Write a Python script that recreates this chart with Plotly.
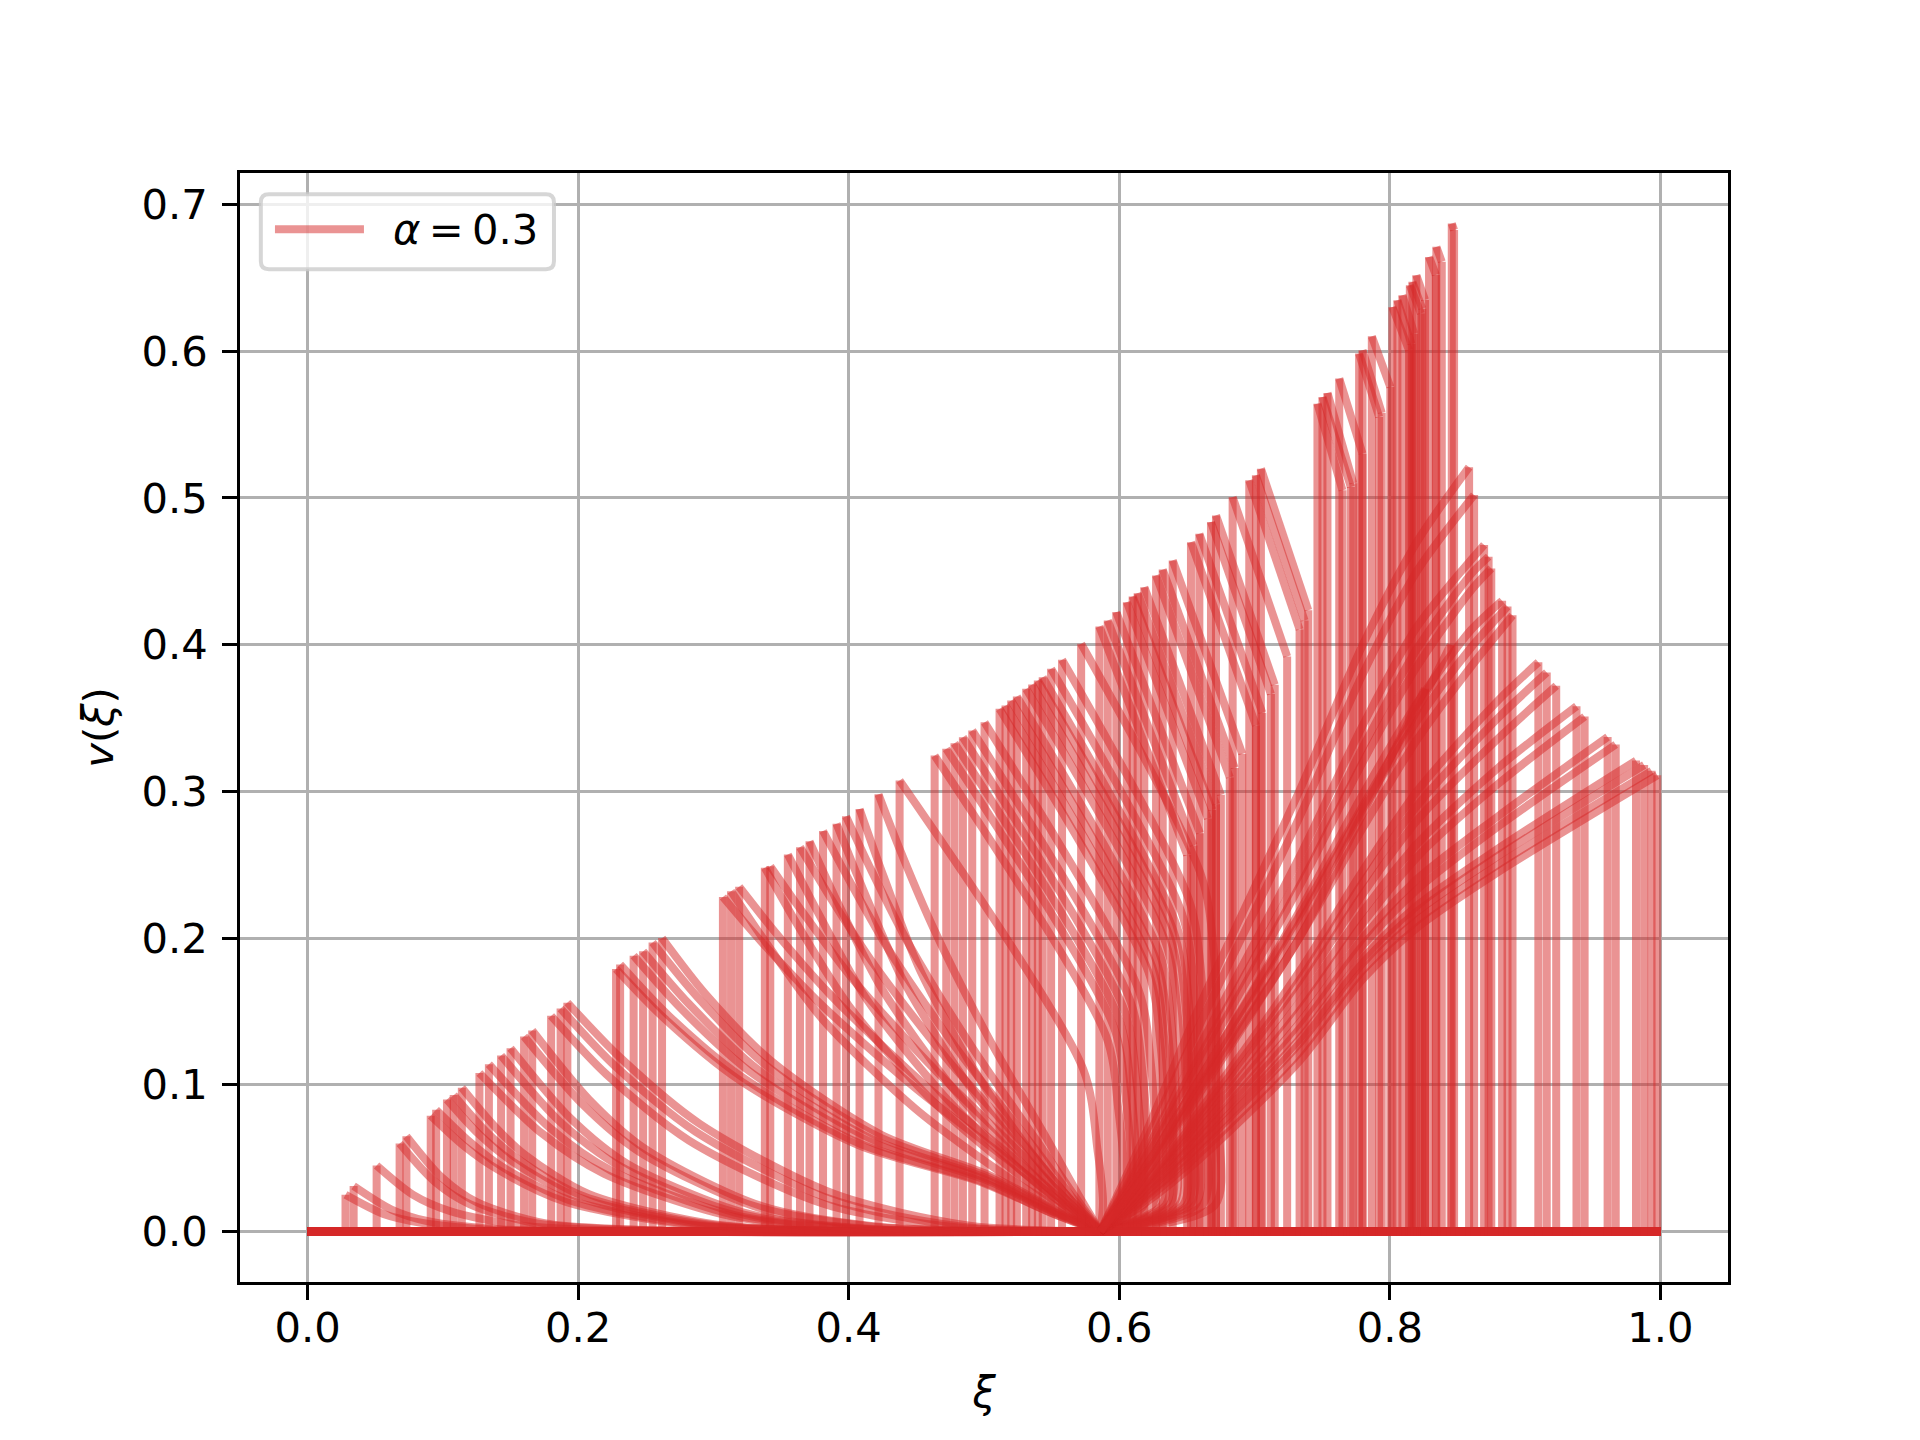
import plotly.graph_objects as go

# --- data -----------------------------------------------------------------
# every profile is zero outside its points; the first point is reached by a
# vertical jump from zero, the last point drops vertically back to zero
xi_domain = [0.0, 1.0]
alpha_value = 0.3

# shocks left of the focus, decaying into it
decay_curves = [
    [(0.028, 0.025), (0.056, 0.012), (0.084, 0.006), (0.14, 0.001), (0.25, 0.0), (0.586, 0.0)],
    [(0.034, 0.031), (0.062, 0.015), (0.089, 0.007), (0.144, 0.0014), (0.26, 0.0), (0.586, 0.0)],
    [(0.051, 0.045), (0.078, 0.025), (0.105, 0.014), (0.158, 0.004), (0.265, 0.0002), (0.586, 0.0)],
    [(0.068, 0.060), (0.094, 0.034), (0.120, 0.0186), (0.172, 0.0051), (0.275, 0.0002), (0.586, 0.0)],
    [(0.073, 0.065), (0.099, 0.037), (0.125, 0.020), (0.176, 0.0055), (0.278, 0.0003), (0.586, 0.0)],
    [(0.091, 0.079), (0.116, 0.058), (0.141, 0.042), (0.19, 0.0205), (0.289, 0.0037), (0.388, 0.0003), (0.586, 0.0)],
    [(0.095, 0.083), (0.120, 0.061), (0.144, 0.044), (0.193, 0.0216), (0.291, 0.0039), (0.39, 0.0003), (0.586, 0.0)],
    [(0.103, 0.090), (0.127, 0.066), (0.151, 0.048), (0.2, 0.0234), (0.296, 0.0042), (0.393, 0.0004), (0.586, 0.0)],
    [(0.108, 0.093), (0.132, 0.068), (0.156, 0.049), (0.204, 0.024), (0.299, 0.0044), (0.395, 0.0004), (0.586, 0.0)],
    [(0.114, 0.098), (0.138, 0.072), (0.161, 0.052), (0.208, 0.0255), (0.303, 0.0046), (0.397, 0.0004), (0.586, 0.0)],
    [(0.127, 0.108), (0.173, 0.067), (0.219, 0.0395), (0.311, 0.0108), (0.402, 0.0017), (0.494, 0.0001), (0.586, 0.0)],
    [(0.134, 0.114), (0.179, 0.0707), (0.224, 0.0417), (0.315, 0.0114), (0.405, 0.0018), (0.586, 0.0)],
    [(0.143, 0.120), (0.187, 0.0744), (0.232, 0.0439), (0.32, 0.012), (0.409, 0.0019), (0.586, 0.0)],
    [(0.150, 0.125), (0.194, 0.0775), (0.237, 0.0458), (0.324, 0.0125), (0.412, 0.002), (0.586, 0.0)],
    [(0.160, 0.133), (0.203, 0.087), (0.245, 0.0545), (0.33, 0.0173), (0.416, 0.0035), (0.501, 0.0002), (0.586, 0.0)],
    [(0.166, 0.137), (0.208, 0.090), (0.25, 0.056), (0.334, 0.0178), (0.418, 0.0036), (0.502, 0.0002), (0.586, 0.0)],
    [(0.180, 0.147), (0.221, 0.107), (0.282, 0.062), (0.383, 0.0184), (0.484, 0.0024), (0.586, 0.0)],
    [(0.187, 0.152), (0.227, 0.113), (0.287, 0.068), (0.387, 0.0219), (0.486, 0.0031), (0.586, 0.0)],
    [(0.192, 0.156), (0.231, 0.1186), (0.290, 0.0733), (0.389, 0.0257), (0.488, 0.0042), (0.586, 0.0)],
    [(0.228, 0.179), (0.264, 0.145), (0.318, 0.104), (0.407, 0.059), (0.497, 0.034), (0.55, 0.0125), (0.586, 0.0)],
    [(0.231, 0.182), (0.267, 0.147), (0.320, 0.106), (0.408, 0.060), (0.497, 0.0346), (0.55, 0.0127), (0.586, 0.0)],
    [(0.241, 0.188), (0.276, 0.152), (0.327, 0.109), (0.414, 0.062), (0.5, 0.0357), (0.552, 0.013), (0.586, 0.0)],
    [(0.248, 0.191), (0.282, 0.155), (0.332, 0.111), (0.417, 0.063), (0.502, 0.0363), (0.552, 0.0134), (0.586, 0.0)],
    [(0.255, 0.197), (0.288, 0.160), (0.338, 0.114), (0.421, 0.065), (0.503, 0.0374), (0.553, 0.0138), (0.586, 0.0)],
    [(0.262, 0.200), (0.294, 0.162), (0.343, 0.116), (0.424, 0.066), (0.505, 0.038), (0.554, 0.014), (0.586, 0.0)],
    [(0.307, 0.228), (0.335, 0.198), (0.377, 0.157), (0.4465, 0.100), (0.516, 0.050), (0.558, 0.019), (0.586, 0.0)],
    [(0.313, 0.232), (0.3403, 0.195), (0.3813, 0.144), (0.4495, 0.0835), (0.5178, 0.037), (0.5587, 0.014), (0.586, 0.0)],
    [(0.319, 0.235), (0.3457, 0.204), (0.3858, 0.162), (0.4525, 0.103), (0.5192, 0.052), (0.5593, 0.020), (0.586, 0.0)],
    [(0.338, 0.248), (0.3628, 0.208), (0.4, 0.154), (0.462, 0.089), (0.524, 0.040), (0.5612, 0.015), (0.586, 0.0)],
    [(0.342, 0.249), (0.3664, 0.217), (0.403, 0.172), (0.464, 0.110), (0.525, 0.055), (0.5616, 0.021), (0.586, 0.0)],
    [(0.355, 0.257), (0.3781, 0.216), (0.4128, 0.159), (0.4705, 0.0925), (0.5283, 0.041), (0.5629, 0.0154), (0.586, 0.0)],
    [(0.364, 0.262), (0.3862, 0.228), (0.4195, 0.181), (0.475, 0.115), (0.5305, 0.058), (0.5638, 0.022), (0.586, 0.0)],
    [(0.371, 0.266), (0.3925, 0.223), (0.4248, 0.165), (0.4785, 0.096), (0.5323, 0.0426), (0.5645, 0.016), (0.586, 0.0)],
    [(0.381, 0.273), (0.4015, 0.2375), (0.4323, 0.188), (0.4835, 0.12), (0.5348, 0.06), (0.5655, 0.023), (0.586, 0.0)],
    [(0.391, 0.278), (0.4105, 0.2335), (0.4398, 0.172), (0.4885, 0.10), (0.5373, 0.0445), (0.5665, 0.0167), (0.586, 0.0)],
    [(0.398, 0.283), (0.4168, 0.246), (0.445, 0.195), (0.492, 0.1245), (0.539, 0.062), (0.5672, 0.024), (0.586, 0.0)],
    [(0.408, 0.288), (0.4258, 0.242), (0.4525, 0.1786), (0.497, 0.1037), (0.5415, 0.046), (0.5682, 0.0173), (0.586, 0.0)],
    [(0.422, 0.298), (0.4384, 0.259), (0.463, 0.206), (0.504, 0.131), (0.545, 0.0656), (0.5696, 0.0253), (0.586, 0.0)],
]

# sawtooth near the focus: straight descent, then a plunge that bends into it
plunge_curves = [
    [(0.4376, 0.3074), (0.5734, 0.1105), (0.584, 0.055), (0.588, 0.02), (0.586, 0.0)],
    [(0.4635, 0.3244), (0.5903, 0.1331), (0.5993, 0.0831), (0.6033, 0.040), (0.6003, 0.018), (0.586, 0.0)],
    [(0.4721, 0.3290), (0.5959, 0.1396), (0.6049, 0.0896), (0.6089, 0.0419), (0.6059, 0.018), (0.586, 0.0)],
    [(0.4782, 0.3328), (0.5998, 0.1448), (0.6088, 0.0948), (0.6128, 0.0434), (0.6098, 0.018), (0.586, 0.0)],
    [(0.4844, 0.3369), (0.6039, 0.1504), (0.6129, 0.1004), (0.6169, 0.0451), (0.6139, 0.018), (0.586, 0.0)],
    [(0.4913, 0.3415), (0.6083, 0.1569), (0.6173, 0.1069), (0.6213, 0.0471), (0.6183, 0.018), (0.586, 0.0)],
    [(0.5004, 0.3471), (0.6143, 0.1647), (0.6233, 0.1147), (0.6273, 0.0494), (0.6243, 0.018), (0.586, 0.0)],
    [(0.5115, 0.3563), (0.6215, 0.1771), (0.6305, 0.1271), (0.6345, 0.0531), (0.6315, 0.018), (0.586, 0.0)],
    [(0.5159, 0.3585), (0.6243, 0.1807), (0.6333, 0.1307), (0.6373, 0.0542), (0.6343, 0.018), (0.586, 0.0)],
    [(0.5201, 0.3619), (0.6271, 0.1853), (0.6361, 0.1353), (0.6401, 0.0556), (0.6371, 0.018), (0.586, 0.0)],
    [(0.5243, 0.3647), (0.6298, 0.1895), (0.6388, 0.1395), (0.6428, 0.0569), (0.6398, 0.018), (0.586, 0.0)],
    [(0.5312, 0.3699), (0.6343, 0.1969), (0.6433, 0.1469), (0.6473, 0.0591), (0.6443, 0.018), (0.586, 0.0)],
    [(0.5356, 0.3729), (0.6371, 0.2015), (0.6461, 0.1515), (0.6501, 0.0605), (0.6471, 0.018), (0.586, 0.0)],
    [(0.5398, 0.3756), (0.6399, 0.2054), (0.6489, 0.1554), (0.6529, 0.0616), (0.6499, 0.018), (0.586, 0.0)],
    [(0.5434, 0.3778), (0.6422, 0.2089), (0.6512, 0.1589), (0.6552, 0.0627), (0.6522, 0.018), (0.586, 0.0)],
    [(0.5496, 0.3836), (0.6462, 0.2171), (0.6552, 0.1671), (0.6592, 0.0651), (0.6562, 0.018), (0.586, 0.0)],
    [(0.5577, 0.3897), (0.6515, 0.2261), (0.6605, 0.1761), (0.6645, 0.0678), (0.6615, 0.018), (0.586, 0.0)],
    [(0.5718, 0.4006), (0.6607, 0.2424), (0.6697, 0.1924), (0.6737, 0.0727), (0.6707, 0.018), (0.586, 0.0)],
]

# shocks just right of the focus: straight descent, then a vertical drop
shelf_curves = [
    [(0.5853, 0.4124), (0.6502, 0.2566)],
    [(0.5915, 0.4165), (0.6549, 0.2631)],
    [(0.5978, 0.4222), (0.6596, 0.2715)],
    [(0.6056, 0.4290), (0.6655, 0.2815)],
    [(0.6099, 0.4329), (0.6687, 0.2874)],
    [(0.6136, 0.4351), (0.6715, 0.2912)],
    [(0.6185, 0.4392), (0.6751, 0.2977)],
    [(0.6272, 0.4472), (0.6817, 0.3095)],
    [(0.6321, 0.4512), (0.6853, 0.3160)],
    [(0.6395, 0.4574), (0.6909, 0.3256)],
    [(0.6530, 0.4699), (0.7010, 0.3449)],
    [(0.6592, 0.4756), (0.7057, 0.3536)],
    [(0.6678, 0.4836), (0.7121, 0.3663)],
    [(0.6715, 0.4881), (0.7149, 0.3727)],
    [(0.6838, 0.5006), (0.7241, 0.3920)],
    [(0.6961, 0.5120), (0.7333, 0.4103)],
    [(0.7010, 0.5154), (0.7370, 0.4165)],
    [(0.7047, 0.5200), (0.7397, 0.4234)],
]

# tall narrow spikes
spike_curves = [
    [(0.7465, 0.5643), (0.7650, 0.5052)],
    [(0.7502, 0.5688), (0.7712, 0.5075)],
    [(0.7539, 0.5716), (0.7730, 0.5100)],
    [(0.7626, 0.5814), (0.7798, 0.5302)],
    [(0.7773, 0.5984), (0.7921, 0.5552)],
    [(0.7798, 0.6007), (0.7940, 0.5580)],
    [(0.7867, 0.6102), (0.8004, 0.5756)],
    [(0.8019, 0.6302), (0.8142, 0.6007)],
    [(0.8056, 0.6348), (0.8160, 0.6050)],
    [(0.8093, 0.6382), (0.8180, 0.6120)],
    [(0.8148, 0.6450), (0.8229, 0.6257)],
    [(0.8167, 0.6473), (0.8240, 0.6290)],
    [(0.8196, 0.6518), (0.8260, 0.6350)],
    [(0.8290, 0.6643), (0.8340, 0.6520)],
    [(0.8344, 0.6712), (0.8384, 0.6610)],
    [(0.8458, 0.6871), (0.8475, 0.6826)],
]

# profiles rising out of the focus up to a right-hand shock
rising_curves = [
    [(0.586, 0.0), (0.62, 0.020), (0.66, 0.050), (0.733, 0.116), (0.78, 0.172), (0.82, 0.207), (0.88, 0.245), (0.9977, 0.311)],
    [(0.586, 0.0), (0.62, 0.022), (0.66, 0.054), (0.733, 0.122), (0.78, 0.178), (0.82, 0.212), (0.88, 0.250), (0.9935, 0.314)],
    [(0.586, 0.0), (0.62, 0.024), (0.66, 0.058), (0.733, 0.128), (0.78, 0.183), (0.82, 0.218), (0.88, 0.256), (0.988, 0.318)],
    [(0.586, 0.0), (0.62, 0.025), (0.66, 0.060), (0.733, 0.131), (0.78, 0.186), (0.82, 0.222), (0.88, 0.261), (0.982, 0.321)],
    [(0.586, 0.0), (0.62, 0.027), (0.66, 0.064), (0.733, 0.138), (0.78, 0.195), (0.82, 0.233), (0.88, 0.276), (0.967, 0.332)],
    [(0.586, 0.0), (0.62, 0.028), (0.66, 0.066), (0.733, 0.142), (0.78, 0.200), (0.82, 0.240), (0.88, 0.283), (0.961, 0.337)],
    [(0.586, 0.0), (0.62, 0.030), (0.66, 0.070), (0.733, 0.150), (0.78, 0.210), (0.82, 0.255), (0.88, 0.305), (0.944, 0.351)],
    [(0.586, 0.0), (0.62, 0.031), (0.66, 0.073), (0.733, 0.156), (0.78, 0.218), (0.82, 0.264), (0.88, 0.316), (0.938, 0.358)],
    [(0.586, 0.0), (0.62, 0.033), (0.66, 0.077), (0.733, 0.165), (0.78, 0.230), (0.82, 0.280), (0.88, 0.336), (0.923, 0.372)],
    [(0.586, 0.0), (0.62, 0.034), (0.66, 0.080), (0.733, 0.171), (0.78, 0.238), (0.82, 0.290), (0.88, 0.350), (0.916, 0.381)],
    [(0.586, 0.0), (0.62, 0.035), (0.66, 0.083), (0.733, 0.177), (0.78, 0.246), (0.82, 0.300), (0.88, 0.362), (0.9098, 0.388)],
    [(0.586, 0.0), (0.62, 0.040), (0.66, 0.095), (0.733, 0.200), (0.78, 0.275), (0.82, 0.335), (0.86, 0.385), (0.8907, 0.420)],
    [(0.586, 0.0), (0.62, 0.042), (0.66, 0.100), (0.733, 0.210), (0.78, 0.288), (0.82, 0.348), (0.86, 0.398), (0.887, 0.426)],
    [(0.586, 0.0), (0.62, 0.045), (0.66, 0.105), (0.733, 0.218), (0.78, 0.298), (0.82, 0.360), (0.86, 0.410), (0.883, 0.430)],
    [(0.586, 0.0), (0.62, 0.050), (0.66, 0.115), (0.733, 0.235), (0.78, 0.320), (0.82, 0.385), (0.86, 0.437), (0.875, 0.452)],
    [(0.586, 0.0), (0.62, 0.052), (0.66, 0.120), (0.733, 0.243), (0.78, 0.330), (0.82, 0.397), (0.86, 0.448), (0.873, 0.460)],
    [(0.586, 0.0), (0.62, 0.055), (0.66, 0.127), (0.733, 0.255), (0.78, 0.345), (0.82, 0.412), (0.8697, 0.468)],
    [(0.586, 0.0), (0.62, 0.062), (0.66, 0.142), (0.733, 0.282), (0.78, 0.380), (0.82, 0.450), (0.8623, 0.502)],
    [(0.586, 0.0), (0.62, 0.068), (0.66, 0.155), (0.733, 0.300), (0.78, 0.400), (0.82, 0.470), (0.8586, 0.521)],
    [(0.586, 0.0), (0.62, 0.045), (0.66, 0.105), (0.733, 0.215), (0.78, 0.290), (0.82, 0.355), (0.845, 0.400)],
    [(0.586, 0.0), (0.62, 0.040), (0.66, 0.098), (0.733, 0.200), (0.78, 0.285), (0.826, 0.370)],
]

x_ticks = [0.0, 0.2, 0.4, 0.6, 0.8, 1.0]
y_ticks = [0.0, 0.1, 0.2, 0.3, 0.4, 0.5, 0.6, 0.7]

# --- style ------------------------------------------------------------------
RED = "rgba(214,39,40,0.5)"
LW = 8
FONT = "DejaVu Sans"
FS = 41.7


def add_profile(fig, pts):
    xs = [p[0] for p in pts]
    vs = [p[1] for p in pts]
    # flat part and the vertical jump / drop
    fig.add_trace(go.Scatter(x=[xi_domain[0], xs[0], xs[0], None, xs[-1], xs[-1], xi_domain[1]],
                             y=[0.0, 0.0, vs[0], None, vs[-1], 0.0, 0.0],
                             mode="lines", line=dict(color=RED, width=LW),
                             showlegend=False, hoverinfo="skip"))
    # smooth body
    fig.add_trace(go.Scatter(x=xs, y=vs, mode="lines",
                             line=dict(color=RED, width=LW, shape="spline", smoothing=0.8),
                             showlegend=False, hoverinfo="skip"))


fig = go.Figure()
for group in [decay_curves, plunge_curves, shelf_curves, spike_curves, rising_curves]:
    for c in group:
        add_profile(fig, c)

axis_common = dict(showgrid=True, gridcolor="#b0b0b0", gridwidth=3.3, zeroline=False,
                   showline=True, mirror=True, linecolor="black", linewidth=3.3,
                   ticks="outside", ticklen=14.6, tickwidth=3.3, tickcolor="black",
                   tickfont=dict(family=FONT, size=FS, color="black"),
                   tickformat=".1f")

fig.update_xaxes(range=[-0.05, 1.05], tickvals=x_ticks, ticklabelstandoff=-8,
                 title=dict(text="<i>ξ</i>", font=dict(family=FONT, size=FS, color="black"), standoff=28),
                 **axis_common)
fig.update_yaxes(range=[-0.0344, 0.7215], tickvals=y_ticks, ticklabelstandoff=6,
                 title=dict(text="<i>v</i>(<i>ξ</i>)", font=dict(family=FONT, size=FS, color="black"), standoff=16),
                 **axis_common)

# legend drawn by hand so the handle keeps matplotlib's length
r_x, r_y = 0.0054, 0.0072
x0, x1, y0, y1 = 0.0140, 0.2110, 0.9132, 0.9809
box = (f"M {x0 + r_x},{y0} L {x1 - r_x},{y0} Q {x1},{y0} {x1},{y0 + r_y} "
       f"L {x1},{y1 - r_y} Q {x1},{y1} {x1 - r_x},{y1} L {x0 + r_x},{y1} "
       f"Q {x0},{y1} {x0},{y1 - r_y} L {x0},{y0 + r_y} Q {x0},{y0} {x0 + r_x},{y0} Z")
fig.add_shape(type="path", path=box, xref="paper", yref="paper",
              fillcolor="rgba(255,255,255,0.8)", line=dict(color="rgba(204,204,204,0.8)", width=4))
fig.add_shape(type="line", xref="paper", yref="paper", x0=0.0235, x1=0.0833, y0=0.9493, y1=0.9493,
              line=dict(color=RED, width=LW))
fig.add_annotation(xref="paper", yref="paper", x=0.1013, y=0.9493, xanchor="left", yanchor="middle",
                   text=f"<i>α</i>\u2009=\u2009{alpha_value}", showarrow=False,
                   font=dict(family=FONT, size=FS, color="black"))

# the page adds an 8 px body margin, so the left/top margins are 8 px smaller
fig.update_layout(width=1920, height=1440, plot_bgcolor="white", paper_bgcolor="white",
                  margin=dict(l=232, r=200, t=165, b=166), showlegend=False)

fig.write_html("out.html")
